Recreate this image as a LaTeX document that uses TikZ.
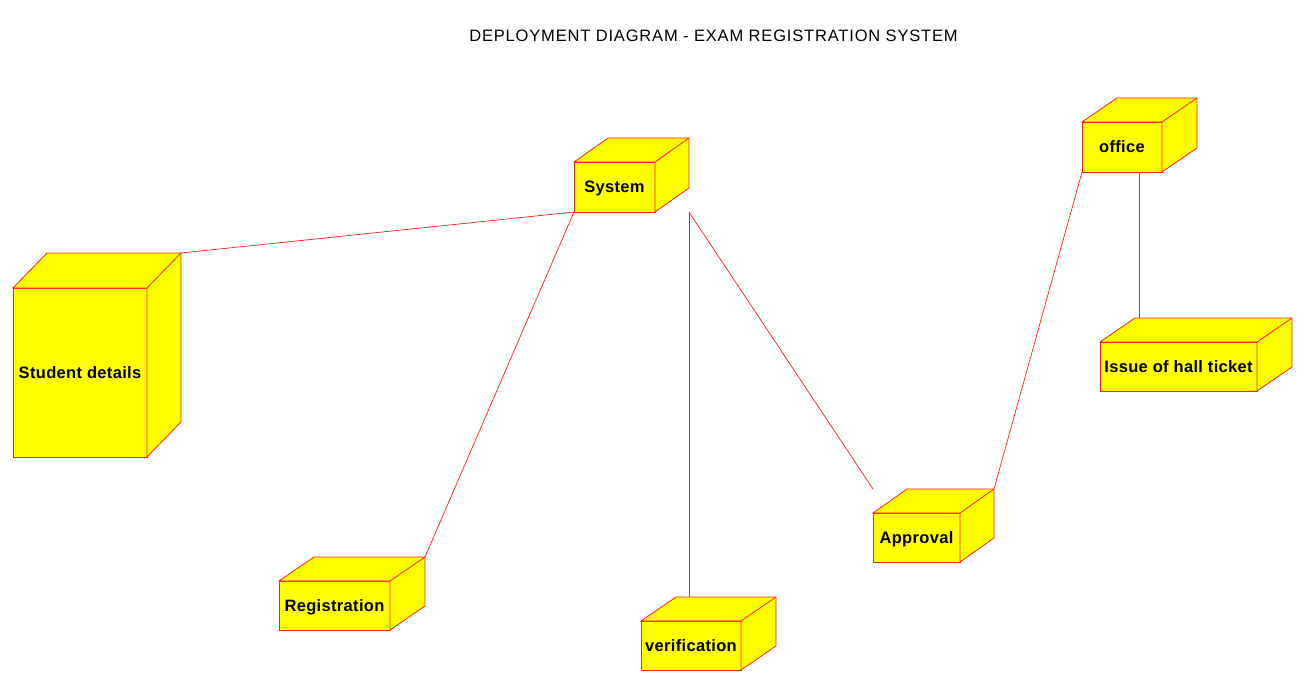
\documentclass[tikz,border=0pt]{standalone}
\usepackage{fontspec}
\setmainfont{Liberation Sans}
\newfontfamily\titlefont[LetterSpace=5]{Liberation Sans}
\newfontfamily\labelfont[LetterSpace=2]{Liberation Sans}
\usetikzlibrary{calc}
\definecolor{nodefill}{RGB}{255,255,0}
\definecolor{nodeline}{RGB}{255,30,30}
\newcommand\depnode[8]{% name, cx, cy, w, h, dx, dy, label
  \node[front, minimum width=#4pt, minimum height=#5pt] (#1) at (#2,#3) {#8};
  \draw[face] (#1.north west) -- ++(#6,-#7) -- ++(#4,0) -- ($(#1.south east)+(#6,-#7)$)
     -- (#1.south east) -- (#1.north east) -- cycle;
  \draw[face] (#1.north east) -- ++(#6,-#7);
  \coordinate (#1-btl) at ($(#1.north west)+(#6,-#7)$);
  \coordinate (#1-btr) at ($(#1.north east)+(#6,-#7)$);
  \coordinate (#1-bbr) at ($(#1.south east)+(#6,0)$);
  \coordinate (#1-bbtl) at ($(#1.north west)+(0,-#7)$);
}
\begin{document}
\begin{tikzpicture}[x=1pt,y=-1pt,
  front/.style={rectangle, draw=nodeline, fill=nodefill, line width=0.8pt, inner sep=0pt,
    outer sep=0pt, text height=11.8pt, text depth=0pt,
    font=\labelfont\bfseries\fontsize{16.5}{19}\selectfont, text=black},
  face/.style={draw=nodeline, fill=nodefill, line width=0.8pt, line join=miter},
  link/.style={draw=nodeline, line width=0.7pt},
  title/.style={font=\titlefont\fontsize{16.5}{20}\selectfont, text=black, inner sep=0pt}]
\useasboundingbox[fill=white] (0,0) rectangle (1308,687);
\node[title] (ttl) at (713.5,36) {DEPLOYMENT DIAGRAM - EXAM REGISTRATION SYSTEM};
\depnode{sys}{614.5}{187}{81}{50}{34}{24}{System}
\depnode{stu}{80}{372.5}{134}{169}{34}{35}{Student details}
\depnode{off}{1122}{147}{80}{50}{35}{24}{office}
\depnode{iss}{1178.5}{366.5}{157}{49}{35}{24}{Issue of hall ticket}
\depnode{app}{916.5}{537.5}{87}{49}{34}{24}{Approval}
\depnode{reg}{334.5}{605.5}{111}{49}{35}{24}{Registration}
\depnode{ver}{691}{645.5}{100}{49}{35}{24}{verification}
\coordinate (offbot) at ($(off.south)+(17.5,0)$);
\draw[link] (stu-btr) -- (sys.south west);
\draw[link] (sys.south west) -- (reg-btr);
\draw[link] (sys-bbr) -- (sys-bbr |- ver-btl);
\draw[link] (sys-bbr) -- (app-bbtl);
\draw[link] (app-btr) -- (off.south west);
\draw[link] (offbot) -- (offbot |- iss-btl);
\end{tikzpicture}
\end{document}
